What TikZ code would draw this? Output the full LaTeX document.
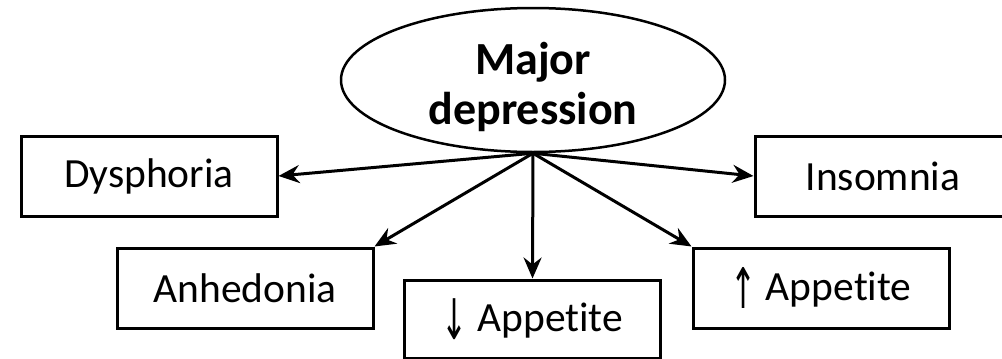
\documentclass[tikz,border=0pt]{standalone}
\usepackage{fontspec}
\setmainfont{Carlito}[Ligatures=NoCommon]
\newfontfamily\arrowfont{DejaVu Sans}
\usetikzlibrary{shapes.geometric,arrows.meta}

% tall thin arrow glyph used in front of "Appetite"
\newcommand{\apparrow}[1]{\raisebox{-0.2em}{\scalebox{0.75}[1.35]{\arrowfont #1}}}

\tikzset{
  symptom/.style={draw=black, line width=3pt, rectangle, minimum width=256pt,
    minimum height=80pt, inner sep=0pt, font=\fontsize{41.5}{48}\selectfont},
  causebubble/.style={draw=black, line width=2.5pt, ellipse, minimum width=384pt,
    minimum height=144pt, inner sep=0pt},
  titletext/.style={align=center, inner sep=0pt, font=\bfseries\fontsize{46}{50}\selectfont},
  link/.style={line width=3pt, -{Stealth[length=21pt, width=18pt, inset=7pt]}}
}

\begin{document}
\begin{tikzpicture}[x=1pt, y=-1pt]
  \useasboundingbox (0,0) rectangle (1002,359);

  % central disorder
  \node[causebubble] (md) at (533,80) {};
  \node[titletext] (mdtext) at (533,86.5) {Major\\depression};

  % symptoms
  \node[symptom] (dys) at (149,176) {Dysphoria};
  \node[symptom] (ins) at (883,176) {Insomnia};
  \node[symptom] (anh) at (245,288) {Anhedonia};
  \node[symptom, minimum height=78pt] (dapp) at (532.5,319) {\apparrow{↓} Appetite};
  \node[symptom] (uapp) at (821,288) {\apparrow{↑} Appetite};

  % links from the disorder to its symptoms
  \draw[link] (md.south) -- (dys.east);
  \draw[link] (md.south) -- (ins.west);
  \draw[link] (md.south) -- (anh.north east);
  \draw[link] (md.south) -- (dapp.north);
  \draw[link] (md.south) -- (uapp.north west);
\end{tikzpicture}
\end{document}
